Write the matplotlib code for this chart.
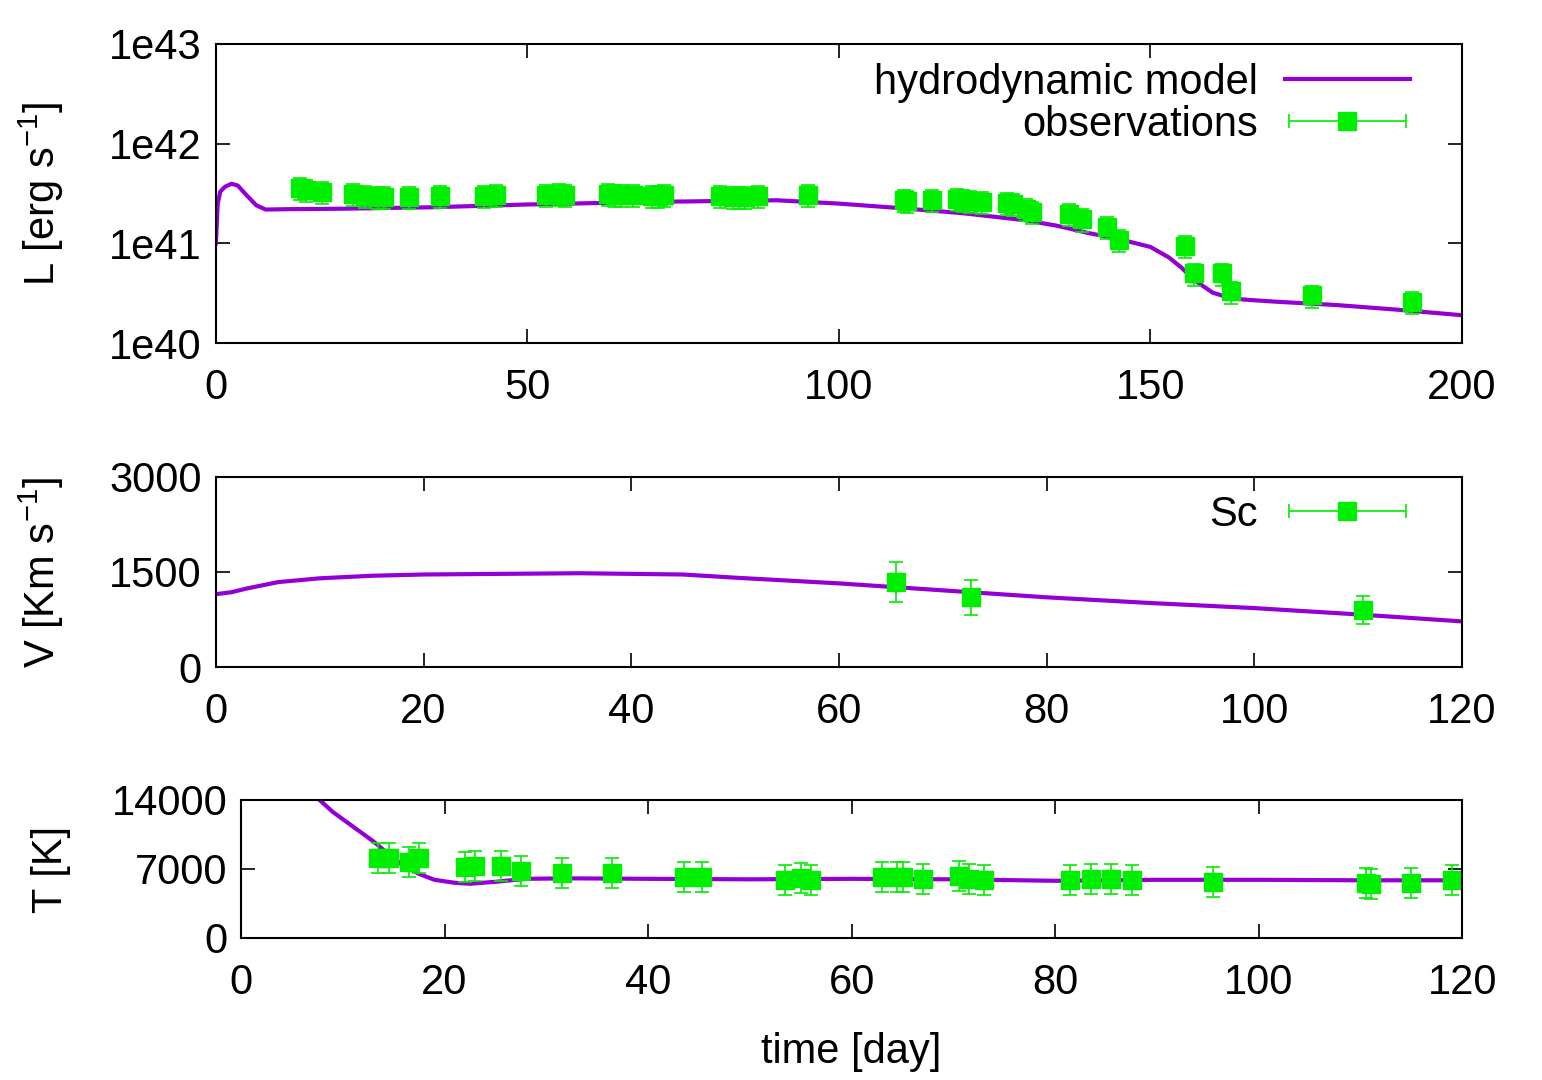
import numpy as np
import matplotlib
matplotlib.use("Agg")
import matplotlib.pyplot as plt
from matplotlib.ticker import FixedLocator
from matplotlib.legend_handler import HandlerErrorbar
from matplotlib.container import ErrorbarContainer

# ---- Luminosity ----
mod_L_t = [0, 0.3, 0.7, 1.5, 2.5, 3.5, 5, 6.5, 8, 12, 20, 35, 50, 70, 90, 100, 110, 120, 130, 135, 140, 145, 150, 153, 155, 157, 160, 163, 166, 170, 180, 190, 200]
mod_L = [1.0e41, 2.5e41, 3.3e41, 3.7e41, 3.95e41, 3.8e41, 3.0e41, 2.4e41, 2.18e41, 2.2e41, 2.22e41, 2.3e41, 2.45e41, 2.6e41, 2.7e41, 2.5e41, 2.25e41, 2.0e41, 1.7e41, 1.5e41, 1.27e41, 1.1e41, 0.92e41, 0.72e41, 0.57e41, 0.43e41, 0.32e41, 0.28e41, 0.27e41, 0.26e41, 0.24e41, 0.215e41, 0.19e41]
obs_L_t = [13.5, 14.5, 17, 22, 24, 26, 27, 31, 36, 43, 45, 53, 55, 56, 63, 64, 65, 67, 70, 71, 72, 81, 83, 84, 85, 87, 95, 110.5, 111, 115, 119, 120, 121, 123, 127, 128, 130, 131, 137, 139, 143, 145, 155.5, 157, 161.5, 163, 176, 192]
obs_L = [3.6e41, 3.42e41, 3.27e41, 3.12e41, 2.98e41, 2.91e41, 2.91e41, 2.91e41, 2.98e41, 2.98e41, 3.05e41, 3.05e41, 3.12e41, 3.05e41, 3.12e41, 3.05e41, 3.05e41, 3.05e41, 2.98e41, 2.98e41, 3.05e41, 2.98e41, 2.91e41, 2.91e41, 2.91e41, 2.98e41, 3.05e41, 2.72e41, 2.66e41, 2.72e41, 2.78e41, 2.72e41, 2.66e41, 2.60e41, 2.54e41, 2.48e41, 2.21e41, 2.06e41, 1.97e41, 1.75e41, 1.46e41, 1.08e41, 0.94e41, 0.50e41, 0.50e41, 0.33e41, 0.30e41, 0.26e41]
obs_L_relerr = 0.25

# ---- Velocity ----
mod_V_t = [0, 1.5, 3, 6, 10, 15, 20, 35, 45, 50, 60, 70, 80, 90, 100, 110, 120]
mod_V = [1150, 1180, 1240, 1340, 1400, 1440, 1460, 1480, 1460, 1410, 1320, 1210, 1100, 1010, 930, 830, 720]
obs_V_t = [65.5, 72.7, 110.5]
obs_V = [1340, 1100, 900]
obs_V_err = [320, 280, 220]

# ---- Temperature ----
mod_T_t = [7.5, 9, 11, 13, 14.5, 16, 17.5, 19, 21, 22.5, 25, 28, 32, 40, 50, 60, 70, 80, 90, 100, 110, 120]
mod_T = [14200, 12800, 11300, 9800, 8500, 7300, 6500, 5900, 5600, 5500, 5700, 6000, 6050, 6000, 5950, 6000, 5950, 5800, 5900, 5900, 5850, 5850]
obs_T_t = [13.5, 14.5, 16.5, 17.5, 22, 23, 25.5, 27.5, 31.5, 36.5, 43.5, 45.3, 53.5, 55, 56, 63, 64.5, 65, 67, 70.5, 71.5, 73, 81.5, 83.5, 85.5, 87.5, 95.5, 110.5, 111, 115, 119]
obs_T = [8100, 8100, 7700, 8100, 7200, 7300, 7300, 6800, 6600, 6600, 6200, 6200, 5900, 6100, 5900, 6200, 6200, 6200, 6000, 6300, 6000, 5900, 5900, 6000, 6000, 5900, 5700, 5600, 5500, 5600, 5900]
obs_T_err = 1500

plt.rcParams['font.family'] = ['Liberation Sans', 'DejaVu Sans']
plt.rcParams['mathtext.default'] = 'regular'
FS = 30
purple = '#9400d3'
green = '#00ee00'

fig = plt.figure(figsize=(15.42, 10.8), dpi=100)
ax1 = fig.add_axes([0.140, 0.6824, 0.808, 0.277])
ax2 = fig.add_axes([0.140, 0.3824, 0.808, 0.176])
ax3 = fig.add_axes([0.1563, 0.1315, 0.792, 0.1278])

ekw = dict(fmt='s', color=green, ms=13, ecolor=green, elinewidth=1.2, capsize=5, capthick=1.2)
hmap = {ErrorbarContainer: HandlerErrorbar(xerr_size=1.4)}
legkw = dict(loc='upper right', frameon=False, fontsize=FS, markerfirst=False,
             handlelength=3.0, labelspacing=0.05, borderaxespad=0.2, handletextpad=0.65,
             handler_map=hmap)

ax1.plot(mod_L_t, mod_L, color=purple, lw=3, label='hydrodynamic model')
L = np.array(obs_L)
ax1.errorbar(obs_L_t, L, yerr=L * obs_L_relerr, label='_nolegend_', **ekw)
ax1.errorbar([np.nan], [np.nan], xerr=[1], label='observations', **ekw)
ax1.set_yscale('log')
ax1.set_xlim(0, 200)
ax1.set_ylim(1e40, 1e43)
ax1.yaxis.set_major_locator(FixedLocator([1e40, 1e41, 1e42, 1e43]))
ax1.yaxis.set_minor_locator(FixedLocator([]))
ax1.set_yticklabels(['1e40', '1e41', '1e42', '1e43'])
ax1.set_xticks([0, 50, 100, 150, 200])
ax1.set_ylabel('L [erg s$^{-1}$]', fontsize=FS)
ax1.legend(bbox_to_anchor=(1 - 27/1246, 1 + 6/299), **legkw)

ax2.plot(mod_V_t, mod_V, color=purple, lw=3)
ax2.errorbar(obs_V_t, obs_V, yerr=obs_V_err, label='_nolegend_', **ekw)
ax2.errorbar([np.nan], [np.nan], xerr=[1], label='Sc', **ekw)
ax2.set_xlim(0, 120)
ax2.set_ylim(0, 3000)
ax2.set_yticks([0, 1500, 3000])
ax2.set_xticks(range(0, 121, 20))
ax2.set_ylabel('V [Km s$^{-1}$]', fontsize=FS)
ax2.legend(bbox_to_anchor=(1 - 27/1246, 1 + 7/190), **legkw)

ax3.plot(mod_T_t, mod_T, color=purple, lw=3)
ax3.errorbar(obs_T_t, obs_T, yerr=obs_T_err, **ekw)
ax3.set_xlim(0, 120)
ax3.set_ylim(0, 14000)
ax3.set_yticks([0, 7000, 14000])
ax3.set_xticks(range(0, 121, 20))
ax3.set_ylabel('T [K]', fontsize=FS)
ax3.set_xlabel('time [day]', fontsize=FS)

for ax in (ax1, ax2, ax3):
    ax.tick_params(labelsize=FS, direction='in', length=10, width=1.2, top=True, right=True)
    ax.tick_params(axis='x', pad=18)
    ax.tick_params(axis='y', pad=10)
    for s in ax.spines.values():
        s.set_linewidth(1.5)
ax1.yaxis.set_label_coords(-0.12, 0.5)
ax2.yaxis.set_label_coords(-0.12, 0.5)
ax3.yaxis.set_label_coords(-0.139, 0.5)
ax3.xaxis.set_label_coords(0.5, -0.68)

fig.savefig('out.png', dpi=100)
